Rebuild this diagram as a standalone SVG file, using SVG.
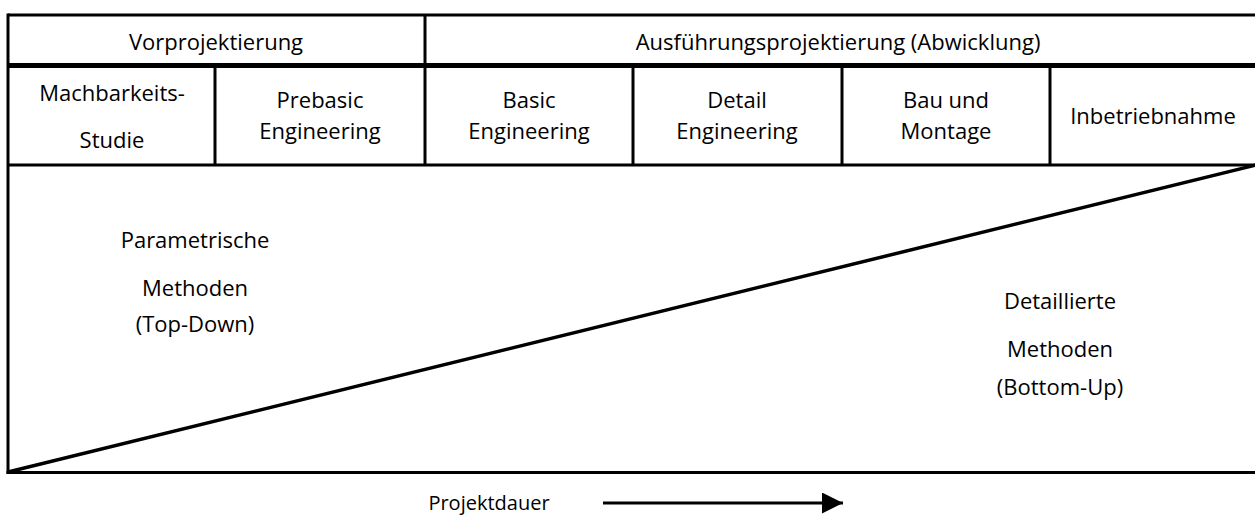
<svg xmlns="http://www.w3.org/2000/svg" width="1255" height="516" viewBox="0 0 1255 516">
<defs>
<style>
text{font-family:"Open Sans","Noto Sans","Liberation Sans",sans-serif;font-size:22px;fill:#000;text-anchor:middle}
.ln{stroke:#000;stroke-width:3;fill:none}
.thick{stroke:#000;stroke-width:5;fill:none}
</style>
<marker id="ah" viewBox="0 0 10 10" refX="10" refY="5" markerWidth="7" markerHeight="7" orient="auto" markerUnits="strokeWidth">
<path d="M0,0 L10,5 L0,10 Z" fill="#000"/>
</marker>
</defs>
<rect width="1255" height="516" fill="#fff"/>
<g id="frame">
<line class="ln" x1="8" y1="15" x2="1257" y2="15"/>
<line class="ln" x1="8" y1="13.5" x2="8" y2="474"/>
<line class="thick" x1="8" y1="65.5" x2="1257" y2="65.5"/>
<line class="ln" x1="8" y1="165" x2="1257" y2="165"/>
<line class="ln" x1="6.5" y1="472.5" x2="1257" y2="472.5"/>
<line class="ln" x1="425" y1="15" x2="425" y2="165"/>
<line class="ln" x1="215" y1="65" x2="215" y2="165"/>
<line class="ln" x1="633" y1="65" x2="633" y2="165"/>
<line class="ln" x1="842" y1="65" x2="842" y2="165"/>
<line class="ln" x1="1050" y1="65" x2="1050" y2="165"/>
</g>
<g id="vorprojektierung"><text x="216" y="50">Vorprojektierung</text></g>
<g id="ausfuehrung"><text x="838" y="50">Ausführungsprojektierung (Abwicklung)</text></g>
<g id="machbarkeit"><text x="112" y="101">Machbarkeits-</text><text x="112" y="148">Studie</text></g>
<g id="prebasic"><text x="320" y="108">Prebasic</text><text x="320" y="139">Engineering</text></g>
<g id="basic"><text x="529" y="108">Basic</text><text x="529" y="139">Engineering</text></g>
<g id="detail"><text x="737" y="108">Detail</text><text x="737" y="139">Engineering</text></g>
<g id="bau"><text x="946" y="108">Bau und</text><text x="946" y="139">Montage</text></g>
<g id="inbetrieb"><text x="1153" y="124">Inbetriebnahme</text></g>
<g id="parametrisch"><text x="195" y="248">Parametrische</text><text x="195" y="296">Methoden</text><text x="195" y="332">(Top-Down)</text></g>
<g id="detailliert"><text x="1060" y="309">Detaillierte</text><text x="1060" y="357">Methoden</text><text x="1060" y="395">(Bottom-Up)</text></g>
<g id="projektdauer"><text x="489" y="510" style="font-size:20px">Projektdauer</text></g>
<g id="connectors">
<line x1="8" y1="472" x2="1256" y2="165" stroke="#000" stroke-width="3.5"/>
<line x1="603" y1="503" x2="843" y2="503" stroke="#000" stroke-width="3" marker-end="url(#ah)"/>
</g>
</svg>
